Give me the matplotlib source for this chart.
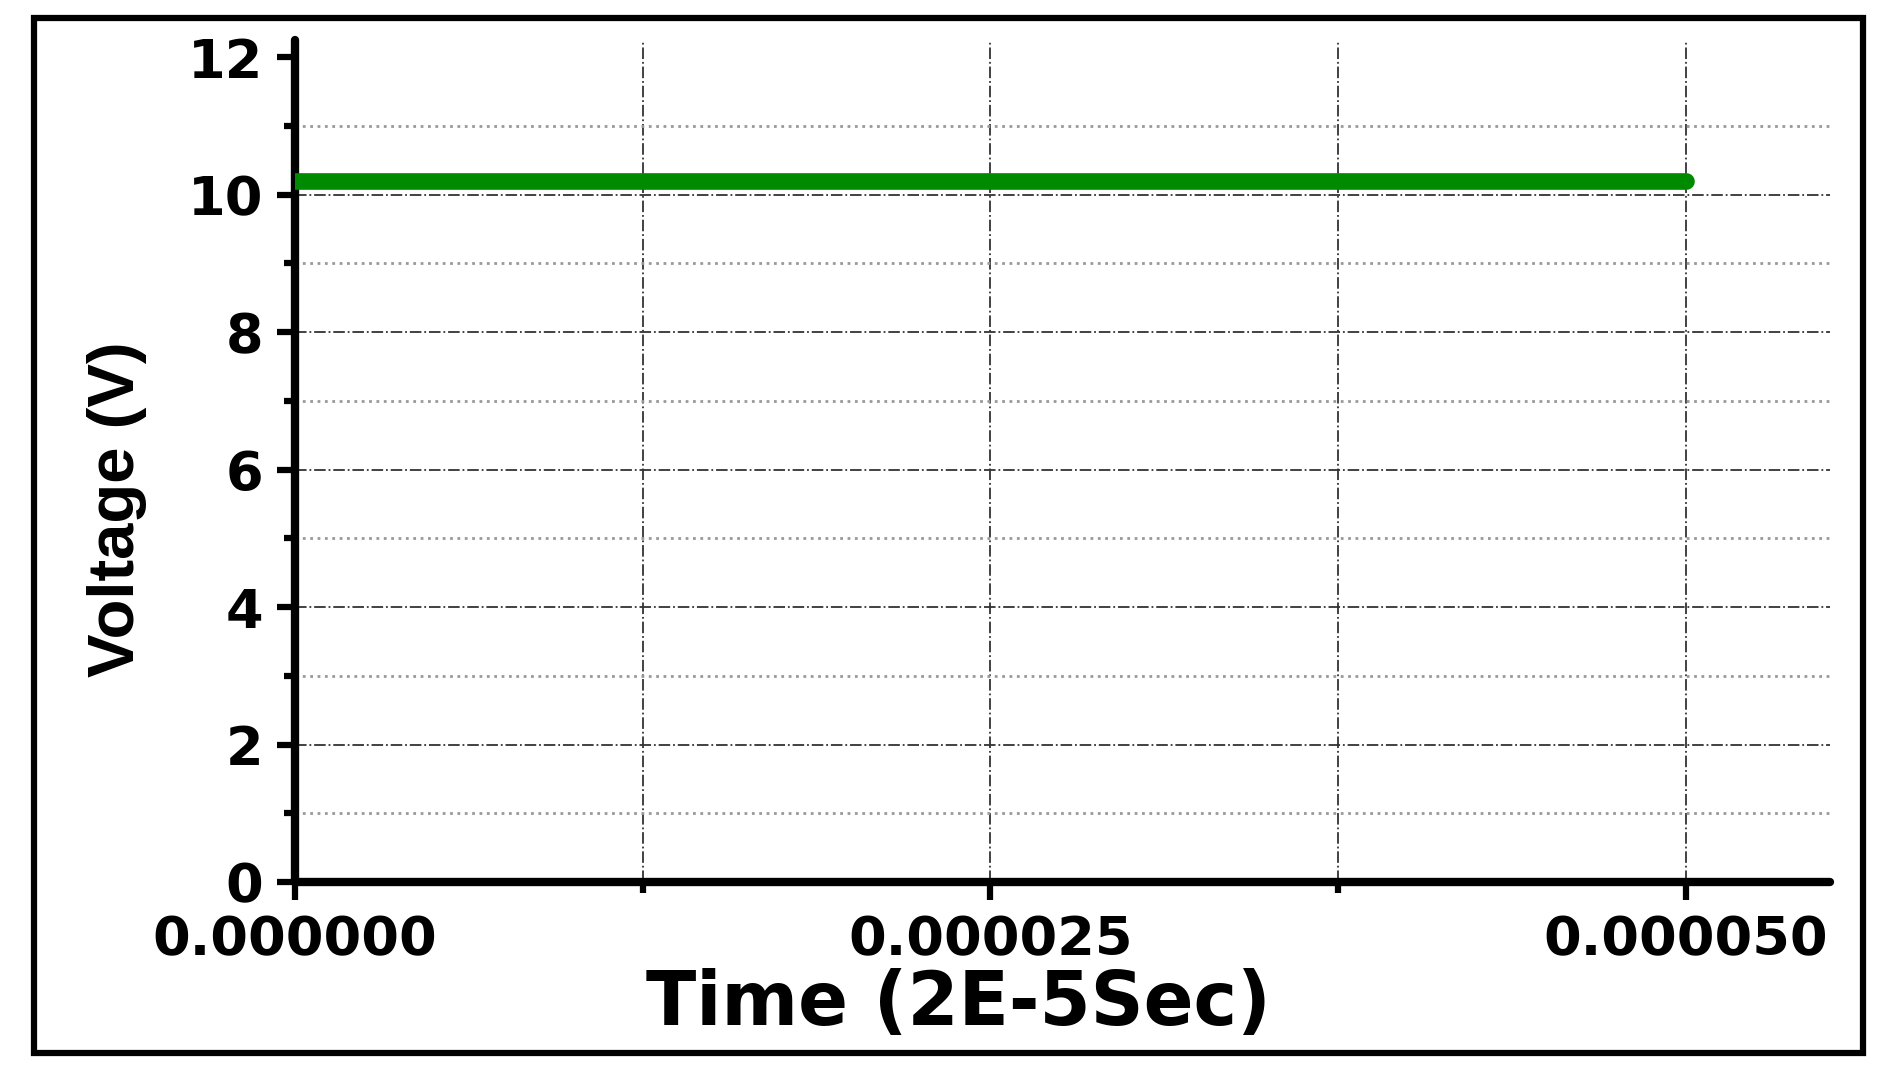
import matplotlib
matplotlib.use('Agg')
import matplotlib.pyplot as plt
from matplotlib.ticker import MultipleLocator, FormatStrFormatter
from matplotlib.patches import Rectangle

# datos de la curva (tension constante)
tiempo = [0.0, 0.000050]
voltaje = [10.2, 10.2]

x_ticks = [0.0, 0.000025, 0.000050]
y_ticks = [0, 2, 4, 6, 8, 10, 12]

fig = plt.figure(figsize=(18.91, 10.77), dpi=100)
ax = fig.add_axes([0.156, 0.181, 0.812, 0.782])

# linea verde
ax.plot(tiempo, voltaje, color='#008a00', linewidth=12, solid_capstyle='round', zorder=3)

ax.set_xlim(0, 0.0000552)
ax.set_ylim(0, 12.25)
ax.set_xticks(x_ticks)
ax.set_yticks(y_ticks)
ax.xaxis.set_minor_locator(MultipleLocator(0.0000125))
ax.yaxis.set_minor_locator(MultipleLocator(1))
ax.xaxis.set_major_formatter(FormatStrFormatter('%.6f'))

# rejilla
ax.grid(which='major', axis='both', color='#333333', linestyle='-.', linewidth=1.3)
ax.grid(which='minor', axis='x', color='#333333', linestyle='-.', linewidth=1.3)
ax.grid(which='minor', axis='y', color='#999999', linestyle=':', linewidth=2.0)
ax.set_axisbelow(True)
ax.get_ygridlines()[-1].set_visible(False)  # sin linea en 12

for lado in ['top', 'right']:
    ax.spines[lado].set_visible(False)
for lado in ['left', 'bottom']:
    ax.spines[lado].set_linewidth(6)
    ax.spines[lado].set_capstyle('round')

ax.tick_params(which='major', direction='out', length=13, width=4.5, pad=10)
ax.tick_params(which='minor', direction='out', length=8, width=4.5)

for etiqueta in ax.get_xticklabels() + ax.get_yticklabels():
    etiqueta.set_fontfamily('DejaVu Sans')
    etiqueta.set_fontweight('bold')
    etiqueta.set_fontsize(39)

ax.set_xlabel('Time (2E-5Sec)', fontsize=53, fontweight='bold', family='DejaVu Sans', va='center')
ax.xaxis.set_label_coords(0.432, -0.145)
ax.set_ylabel('Voltage (V)', fontsize=47, fontweight='bold', family='Liberation Sans', va='center')
ax.yaxis.set_label_coords(-0.116, 0.443)

# marco exterior
marco = Rectangle((0.018, 0.022), 0.967, 0.961, transform=fig.transFigure,
                  fill=False, edgecolor='black', linewidth=4.5)
fig.patches.append(marco)

plt.savefig('out.png', dpi=100)
